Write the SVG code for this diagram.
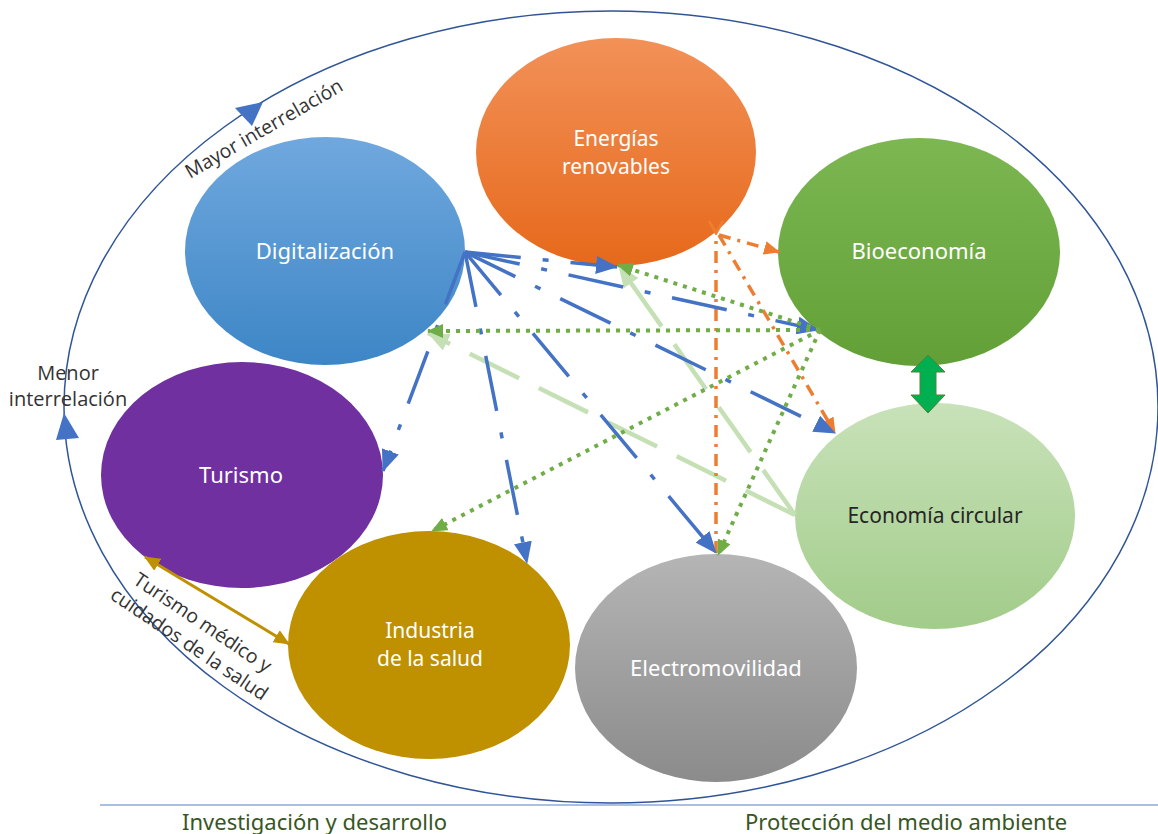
<svg xmlns="http://www.w3.org/2000/svg" width="1158" height="834" viewBox="0 0 1158 834">
<style>
.lbl{font-family:"Noto Sans","Open Sans",sans-serif;font-size:22px;fill:#ffffff;text-anchor:middle}
.two{font-size:21px}
.note{font-family:"Open Sans","Noto Sans",sans-serif;font-size:19.5px;fill:#333333}
.foot{font-family:"Noto Sans","Open Sans",sans-serif;font-size:22px;fill:#375623}
.b{fill:none;stroke:#4472c4;stroke-width:3.5;stroke-dasharray:56 22 6 22;marker-end:url(#mb)}
.g{fill:none;stroke:#70ad47;stroke-width:4;stroke-dasharray:4 6;marker-end:url(#mg)}
.o{fill:none;stroke:#ed7d31;stroke-width:3.5;stroke-dasharray:12 7 3 7;marker-end:url(#mo)}
.l{fill:none;stroke:#c5e0b4;stroke-width:4.5;stroke-dasharray:55 22;marker-end:url(#ml)}
</style>
<defs>
<linearGradient id="gE" x1="0" y1="0" x2="0" y2="1"><stop offset="0" stop-color="#f29158"/><stop offset="1" stop-color="#e6691b"/></linearGradient>
<linearGradient id="gD" x1="0" y1="0" x2="0" y2="1"><stop offset="0" stop-color="#70a8de"/><stop offset="1" stop-color="#3d86c6"/></linearGradient>
<linearGradient id="gB" x1="0" y1="0" x2="0" y2="1"><stop offset="0" stop-color="#7cb752"/><stop offset="1" stop-color="#62a037"/></linearGradient>
<linearGradient id="gC" x1="0" y1="0" x2="0" y2="1"><stop offset="0" stop-color="#c8e2b9"/><stop offset="1" stop-color="#a2cc8a"/></linearGradient>
<linearGradient id="gM" x1="0" y1="0" x2="0" y2="1"><stop offset="0" stop-color="#b5b5b5"/><stop offset="1" stop-color="#8b8b8b"/></linearGradient>
<marker id="mb" markerUnits="userSpaceOnUse" viewBox="0 0 22 18" refX="21" refY="9" markerWidth="22" markerHeight="18" orient="auto"><path d="M0,0 L22,9 L0,18 z" fill="#4472c4"/></marker>
<marker id="mg" markerUnits="userSpaceOnUse" viewBox="0 0 16 14" refX="15" refY="7" markerWidth="16" markerHeight="14" orient="auto"><path d="M0,0 L16,7 L0,14 z" fill="#70ad47"/></marker>
<marker id="mo" markerUnits="userSpaceOnUse" viewBox="0 0 16 14" refX="15" refY="7" markerWidth="16" markerHeight="14" orient="auto"><path d="M0,0 L16,7 L0,14 z" fill="#ed7d31"/></marker>
<marker id="mov" markerUnits="userSpaceOnUse" viewBox="0 0 16 16" refX="1" refY="8" markerWidth="16" markerHeight="16" orient="auto"><path d="M14,1 L2,8 L14,15" fill="none" stroke="#ed7d31" stroke-width="3"/></marker>
<marker id="ml" markerUnits="userSpaceOnUse" viewBox="0 0 22 18" refX="21" refY="9" markerWidth="22" markerHeight="18" orient="auto"><path d="M0,0 L22,9 L0,18 z" fill="#c5e0b4"/></marker>
<marker id="my" markerUnits="userSpaceOnUse" viewBox="0 0 16 14" refX="15" refY="7" markerWidth="16" markerHeight="14" orient="auto-start-reverse"><path d="M0,0 L16,7 L0,14 z" fill="#bf9000"/></marker>
</defs>
<rect width="1158" height="834" fill="#ffffff"/>
<g id="frame">
<ellipse cx="611" cy="407" rx="547" ry="396" fill="none" stroke="#2f5597" stroke-width="1.5"/>
<polygon points="263,102 235,108 252,126" fill="#4472c4"/>
<polygon points="64,413 56,440 79,438" fill="#4472c4"/>
<line x1="100" y1="805" x2="1158" y2="805" stroke="#8faadc" stroke-width="1.5"/>
<text class="note" transform="translate(190,179) rotate(-30)">Mayor interrelación</text>
<text class="note" x="68" y="380" text-anchor="middle" style="font-size:20px">Menor</text>
<text class="note" x="68" y="406" text-anchor="middle" style="font-size:20px">interrelación</text>
<text class="foot" x="182" y="830">Investigación y desarrollo</text>
<text class="foot" x="745" y="830">Protección del medio ambiente</text>
</g>
<g id="energias"><ellipse cx="616" cy="152" rx="140" ry="114" fill="url(#gE)"/><text class="lbl two" x="616" y="146">Energías</text><text class="lbl two" x="616" y="174">renovables</text></g>
<g id="digitalizacion"><ellipse cx="325" cy="251" rx="140" ry="114" fill="url(#gD)"/><text class="lbl" x="325" y="259">Digitalización</text></g>
<g id="bioeconomia"><ellipse cx="919" cy="252" rx="141" ry="114" fill="url(#gB)"/><text class="lbl" x="919" y="259">Bioeconomía</text></g>
<g id="turismo"><ellipse cx="242" cy="475" rx="141" ry="113" fill="#7030a0"/><text class="lbl" x="241" y="483">Turismo</text></g>
<g id="industria"><ellipse cx="429" cy="645" rx="141" ry="114" fill="#bf9000"/><text class="lbl two" x="430" y="638">Industria</text><text class="lbl two" x="430" y="666">de la salud</text></g>
<g id="electromovilidad"><ellipse cx="716" cy="668" rx="141" ry="114" fill="url(#gM)"/><text class="lbl" x="716" y="676">Electromovilidad</text></g>
<g id="economia-circular"><ellipse cx="935" cy="516" rx="140" ry="113" fill="url(#gC)"/><text class="lbl" x="935" y="523" style="fill:#262626;font-size:21px">Economía circular</text></g>
<g id="connectors">
<path class="l" d="M795,515 L619,266"/>
<path class="l" d="M795,515 L428,333"/>
<path class="o" d="M716,553 L716,234" style="marker-end:url(#mov)"/>
<path class="o" d="M719,235 L779,252"/>
<path class="o" d="M719,235 L835,433"/>
<path class="b" d="M465,252 L617,267"/>
<path class="b" d="M465,252 L818,330"/>
<path class="b" d="M465,252 L835,433"/>
<path class="b" d="M465,252 L716,553"/>
<path class="b" d="M465,252 L527,563"/>
<path class="b" d="M465,252 L383,471"/>
<path class="g" d="M820,330 L618,265"/>
<path class="g" d="M820,330 L428,331"/>
<path class="g" d="M820,330 L432,531"/>
<path class="g" d="M820,330 L718,555"/>
<path d="M928,355 L945,372 L936,372 L936,395 L945,395 L928,413 L911,395 L920,395 L920,372 L911,372 Z" fill="#00b050" stroke="#548235" stroke-width="1"/>
<path d="M145,557 L289,644" stroke="#bf9000" stroke-width="3" fill="none" marker-start="url(#my)" marker-end="url(#my)"/>
<text class="note" transform="translate(132,583) rotate(34)">Turismo médico y</text>
<text class="note" transform="translate(109,598) rotate(34)">cuidados de la salud</text>
</g>
</svg>
